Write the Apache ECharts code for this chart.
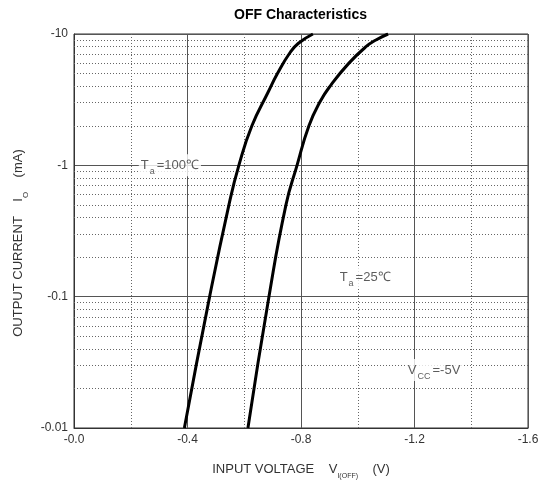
<!DOCTYPE html>
<html>
<head>
<meta charset="utf-8">
<script src="https://cdn.jsdelivr.net/npm/echarts@6/dist/echarts.min.js"></script>
<style>html,body{margin:0;padding:0;background:#fff}#c{width:547px;height:480px}</style>
</head>
<body>
<div id="c"></div>
<script>
// Curve data: [|V_I(OFF)| (V), |I_O| (mA)]
var curve100 = [[0.389,0.01],[0.478,0.1],[0.546,0.5],[0.581,1],[0.627,2],[0.684,3.6],[0.717,5],[0.761,7.2],[0.791,8.5],[0.842,10]];
var curve25 = [[0.613,0.01],[0.687,0.1],[0.747,0.5],[0.786,1],[0.828,2],[0.867,3.05],[0.906,4.1],[0.969,6],[1.029,8],[1.064,9],[1.107,10]];
var yTickLabels = {'-2':'-0.01','-1':'-0.1','0':'-1','1':'-10'};
var minorY = [0.02,0.03,0.04,0.05,0.06,0.07,0.08,0.09,0.2,0.3,0.4,0.5,0.6,0.7,0.8,0.9,2,3,4,5,6,7,8,9];
var annotations = [
  {pos:[0.338,1], rich:['T','a','=100\u2103']},
  {pos:[1.026,0.141], rich:['T','a','=25\u2103']},
  {pos:[1.269,0.0276], rich:['V','CC','=-5V']}
];
var FONT = '"Liberation Sans", Arial, sans-serif';
var chart = echarts.init(document.getElementById('c'));
var richSub = {
  n:{fontSize:13,color:'#333',fontFamily:FONT,lineHeight:22,verticalAlign:'middle'},
  s:{fontSize:9,color:'#333',fontFamily:FONT,lineHeight:9,verticalAlign:'bottom',padding:[0,2,0,1]}
};
var solid = {color:'#555',width:1,type:'solid'};
var dotted = {color:'#666',width:1,type:[1,2]};
chart.setOption({
  animation:false,
  graphic:[{type:'text',left:234,top:8,style:{text:'OFF Characteristics',font:'bold 14px '+FONT,fill:'#000'}}],
  grid:{left:74,right:19,top:34,bottom:52,show:true,borderColor:'#333',borderWidth:1,backgroundColor:'#fff',containLabel:false,outerBoundsMode:'none'},
  xAxis:{
    type:'value',min:0,max:1.6,interval:0.4,
    name:'{n|INPUT VOLTAGE    V}{s|I(OFF)}{n|    (V)}',
    nameLocation:'middle',nameGap:30,
    nameTextStyle:{rich:{n:{fontSize:13,color:'#333',fontFamily:FONT,lineHeight:22,verticalAlign:'middle'},s:{fontSize:7,color:'#333',fontFamily:FONT,lineHeight:8,verticalAlign:'bottom'}}},
    axisLine:{show:true,onZero:false,lineStyle:{color:'#333'}},
    axisTick:{show:false},
    axisLabel:{color:'#333',fontSize:12,fontFamily:FONT,margin:6,formatter:function(v){return '-'+v.toFixed(1);}},
    splitLine:{show:true,lineStyle:solid},
    minorTick:{show:false,splitNumber:2},
    minorSplitLine:{show:true,lineStyle:dotted}
  },
  yAxis:{
    type:'log',logBase:10,min:0.01,max:10,
    name:'{n|OUTPUT CURRENT    I}{s|O}{n|    (mA)}{g|}',
    nameLocation:'middle',nameGap:35,nameRotate:90,
    nameTextStyle:{rich:{n:{fontSize:13,color:'#333',fontFamily:FONT,lineHeight:22,verticalAlign:'middle'},s:{fontSize:8,color:'#333',fontFamily:FONT,lineHeight:8,verticalAlign:'bottom'},g:{width:24}}},
    axisLine:{show:true,lineStyle:{color:'#333'}},
    axisTick:{show:false},
    axisLabel:{color:'#333',fontSize:12,fontFamily:FONT,margin:6,formatter:function(v){var k=Math.round(Math.log10(v));return yTickLabels[String(k)]||'';}},
    splitLine:{show:true,lineStyle:solid}
  },
  series:[
    {type:'line',data:curve100,smooth:0.5,showSymbol:false,lineStyle:{color:'#000',width:3},z:5,
     markLine:{silent:true,symbol:['none','none'],label:{show:false},lineStyle:dotted,animation:false,
       data:minorY.map(function(v){return {yAxis:v};})}},
    {type:'line',data:curve25,smooth:0.5,showSymbol:false,lineStyle:{color:'#000',width:3},z:5},
    {type:'scatter',z:20,symbolSize:1,itemStyle:{color:'rgba(0,0,0,0)'},silent:true,
     data:annotations.map(function(a){return {value:a.pos};}),
     label:{show:true,position:'inside',backgroundColor:'#fff',padding:[0,2],
       formatter:function(p){var r=annotations[p.dataIndex].rich;return '{n|'+r[0]+'}{s|'+r[1]+'}{n|'+r[2]+'}';},
       rich:richSub}}
  ]
});
</script>
</body>
</html>
